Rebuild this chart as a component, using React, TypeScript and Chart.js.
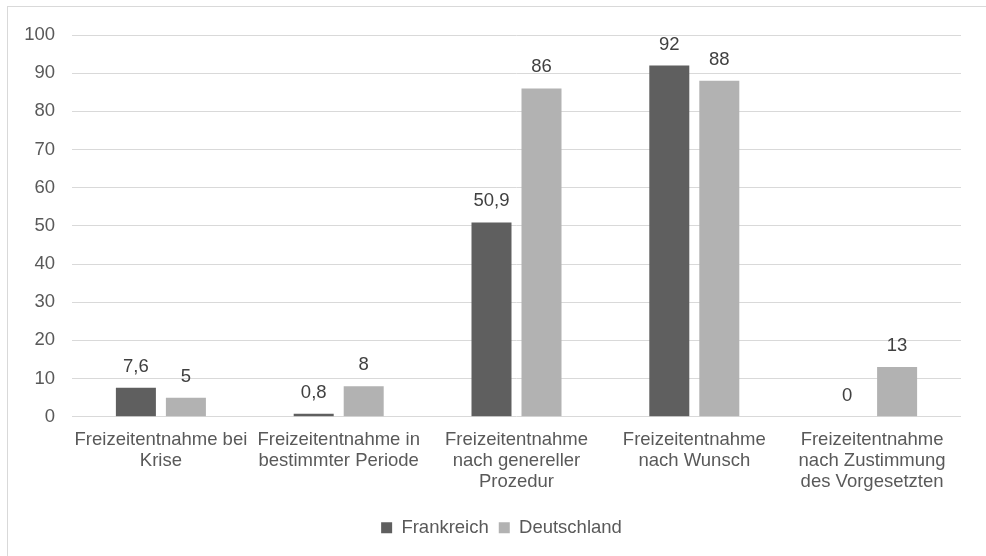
import React, { useEffect, useRef } from "react";
import { Chart, registerables } from "chart.js";

Chart.register(...registerables);

const categories: string[][] = [
  ["Freizeitentnahme bei", "Krise"],
  ["Freizeitentnahme in", "bestimmter Periode"],
  ["Freizeitentnahme", "nach genereller", "Prozedur"],
  ["Freizeitentnahme", "nach Wunsch"],
  ["Freizeitentnahme", "nach Zustimmung", "des Vorgesetzten"],
];
const frankreich: number[] = [7.6, 0.8, 50.9, 92, 0];
const deutschland: number[] = [5, 8, 86, 88, 13];
const seriesNames: string[] = ["Frankreich", "Deutschland"];

const FONT = "'Liberation Sans', Arial, sans-serif";

const borderPlugin = {
  id: "bgBorder",
  beforeDraw(chart: any) {
    const ctx = chart.ctx;
    ctx.save();
    ctx.fillStyle = "#ffffff";
    ctx.fillRect(0, 0, chart.width, chart.height);
    ctx.strokeStyle = "#d9d9d9";
    ctx.lineWidth = 1;
    ctx.strokeRect(7.5, 6.5, chart.width + 20, chart.height + 20);
    ctx.restore();
  },
};

const legendShift = {
  id: "legendShift",
  afterLayout(chart: any) {
    const lg = chart.legend;
    if (lg) {
      lg.left += 15;
      lg.right += 15;
    }
  },
};

const valueLabels = {
  id: "valueLabels",
  afterDatasetsDraw(chart: any) {
    const ctx = chart.ctx;
    ctx.save();
    ctx.font = `18.5px ${FONT}`;
    ctx.fillStyle = "#404040";
    ctx.textAlign = "center";
    ctx.textBaseline = "alphabetic";
    chart.data.datasets.forEach((ds: any, i: number) => {
      const meta = chart.getDatasetMeta(i);
      meta.data.forEach((el: any, j: number) => {
        const v = ds.data[j];
        const txt = String(v).replace(".", ",");
        ctx.fillText(txt, el.x, el.y - 16);
      });
    });
    ctx.restore();
  },
};

export default function App() {
  const ref = useRef<HTMLCanvasElement | null>(null);
  useEffect(() => {
    document.body.style.margin = "0";
    const chart = new Chart(ref.current as HTMLCanvasElement, {
      type: "bar",
      data: {
        labels: categories,
        datasets: [
          {
            label: seriesNames[0],
            data: frankreich,
            backgroundColor: "#5f5f5f",
            categoryPercentage: 0.5625,
            barPercentage: 0.8,
          },
          {
            label: seriesNames[1],
            data: deutschland,
            backgroundColor: "#b2b2b2",
            categoryPercentage: 0.5625,
            barPercentage: 0.8,
          },
        ],
      },
      options: {
        responsive: false,
        animation: false,
        devicePixelRatio: 1,
        layout: { padding: { left: 12, right: 25, top: 35, bottom: 9 } },
        scales: {
          x: {
            grid: { display: false, drawTicks: false },
            border: { display: false },
            ticks: {
              color: "#595959",
              font: { family: FONT, size: 18.5, lineHeight: 1.135 },
              padding: 12.5,
              autoSkip: false,
              maxRotation: 0,
              minRotation: 0,
            },
            afterFit(scale: any) {
              scale.height = 91.75;
            },
          },
          y: {
            min: 0,
            max: 100,
            grid: { color: "#d9d9d9", lineWidth: 1, drawTicks: false },
            border: { display: false },
            ticks: {
              stepSize: 10,
              color: "#595959",
              font: { family: FONT, size: 18.5 },
              padding: 17,
            },
            afterFit(scale: any) {
              scale.width = 60;
            },
          },
        },
        plugins: {
          legend: {
            position: "bottom",
            labels: {
              boxWidth: 11,
              boxHeight: 11,
              padding: 10,
              color: "#595959",
              font: { family: FONT, size: 18.5 },
            },
          },
          tooltip: { enabled: false },
        },
      },
      plugins: [borderPlugin, legendShift, valueLabels],
    } as any);
    return () => chart.destroy();
  }, []);
  return (
    <div style={{ position: "absolute", left: 0, top: 0, width: 986, height: 556 }}>
      <canvas ref={ref} width={986} height={556} style={{ width: 986, height: 556 }} />
    </div>
  );
}
